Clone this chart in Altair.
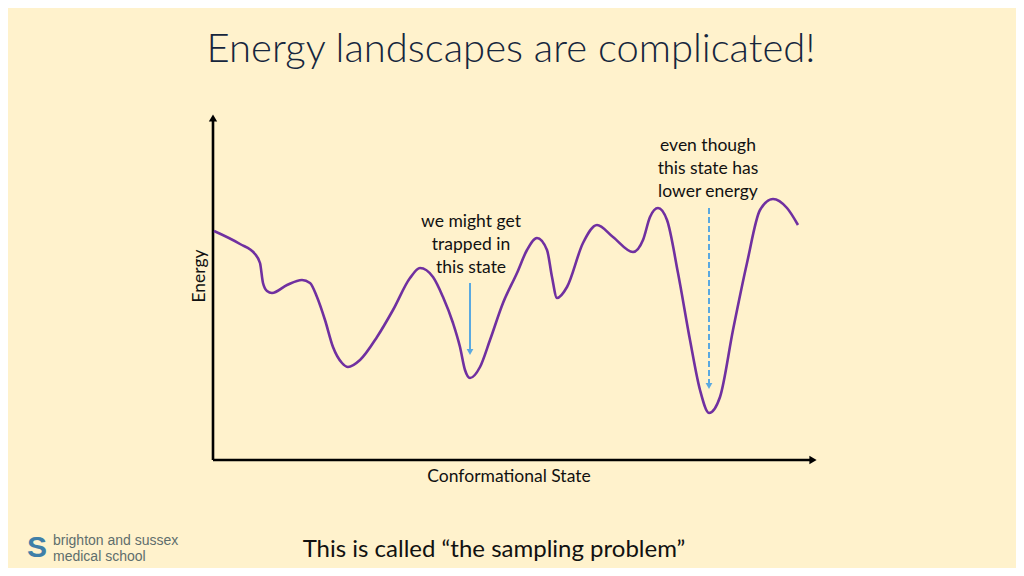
import altair as alt
import pandas as pd

# Energy landscape (arbitrary units: state 0-605, energy 0-347)
state = [1, 27, 42, 47, 50, 54, 59, 74, 89, 97,
         104, 112, 120, 129, 135, 147, 164, 180, 197, 207,
         220, 230, 240, 247, 252, 257, 267, 277, 290, 304,
         314, 324, 334, 339, 344, 354, 370, 384, 400, 420,
         430, 437, 445, 454, 465, 477, 487, 496, 507, 520,
         534, 547, 560, 574, 585]
energy = [229, 216, 206, 197, 177, 169, 167, 175, 180, 177,
          163, 140, 113, 97, 93, 100, 123, 150, 182, 192,
          183, 163, 137, 113, 90, 82, 93, 120, 157, 187,
          210, 222, 210, 183, 162, 173, 217, 235, 223, 208,
          220, 243, 252, 240, 187, 120, 70, 47, 63, 130,
          197, 250, 261, 252, 235]

title_text = "Energy landscapes are complicated!"
y_label = "Energy"
x_label = "Conformational State"
note_trap = "we might get\ntrapped in\nthis state"
note_low = "even though\nthis state has\nlower energy"
footer = "This is called \u201cthe sampling problem\u201d"
logo_lines = "brighton and sussex\nmedical school"

# arrows: (state, energy start, energy end)
trap_state, trap_from, trap_to = 257, 177, 108
low_state, low_from, low_to = 496, 252, 74

curve = pd.DataFrame({"state": state, "energy": energy})
one = pd.DataFrame({"k": [0]})

BG = "#FFF2CC"
FONT = "Lato"
xs = alt.Scale(domain=[0, 605], range=[205, 810])
ys = alt.Scale(domain=[0, 347], range=[452, 105])

line = alt.Chart(curve).mark_line(color="#7030A0", strokeWidth=2.6, interpolate="monotone").encode(
    x=alt.X("state:Q", scale=xs, axis=None),
    y=alt.Y("energy:Q", scale=ys, axis=None),
)

def rule(x, y, x2=None, y2=None, color="black", width=2.6, dash=None):
    kw = dict(color=color, strokeWidth=width)
    if dash:
        kw["strokeDash"] = dash
    enc = dict(x=alt.X(datum=x, scale=xs, axis=None), y=alt.Y(datum=y, scale=ys, axis=None))
    if x2 is not None:
        enc["x2"] = alt.X2(datum=x2)
    if y2 is not None:
        enc["y2"] = alt.Y2(datum=y2)
    return alt.Chart(one).mark_rule(**kw).encode(**enc)

def head(x, y, shape, color="black", size=70):
    return alt.Chart(one).mark_point(shape=shape, filled=True, opacity=1,
                                     color=color, size=size, strokeWidth=0).encode(
        x=alt.X(datum=x, scale=xs, axis=None), y=alt.Y(datum=y, scale=ys, axis=None))

x_axis = rule(0, 0, x2=597)
y_axis = rule(0, 0, y2=340)
x_head = head(600, 0, "triangle-right")
y_head = head(0, 342, "triangle-up")

BLUE = "#5AA9E0"
trap_line = rule(trap_state, trap_from, y2=trap_to + 3, color=BLUE, width=2)
trap_head = head(trap_state, trap_to, "triangle-down", color=BLUE, size=45)
low_line = rule(low_state, low_from, y2=low_to + 3, color=BLUE, width=2, dash=[6, 3])
low_head = head(low_state, low_to, "triangle-down", color=BLUE, size=45)

def txt(text, x, y, size, color="#111111", angle=0, weight=400, font=FONT,
        align="center", baseline="middle", lh=None):
    kw = dict(align=align, baseline=baseline, fontSize=size, font=font,
              color=color, fontWeight=weight)
    if angle:
        kw["angle"] = angle
    if lh:
        kw["lineBreak"] = "\n"
        kw["lineHeight"] = lh
    return alt.Chart(one).mark_text(**kw).encode(
        x=alt.value(x), y=alt.value(y), text=alt.value(text))

title = txt(title_text, 503, 42, 40, color="#16263D", weight=300)
ylab = txt(y_label, 192, 268, 17.5, angle=270)
xlab = txt(x_label, 501, 469, 17.5)
n1 = txt(note_trap, 463, 214, 17.5, lh=23)
n2 = txt(note_low, 700, 138, 17.5, lh=23)
foot = txt(footer, 486, 542, 24)
logo = txt(logo_lines, 45, 533, 14, color="#5E6E6C", font="Liberation Sans",
           align="left", lh=16)
helix = txt("S", 29, 540, 30, color="#3F7FA8", font="Liberation Sans", weight=700)

chart = alt.layer(
    x_axis, y_axis, x_head, y_head, line,
    trap_line, trap_head, low_line, low_head,
    title, ylab, xlab, n1, n2, foot, helix, logo,
).properties(
    width=1008, height=560,
    autosize=alt.AutoSizeParams(type="none"),
    padding=0,
    background=BG,
).configure_view(stroke=None)

chart.save("out.html", embed_options={"renderer": "svg", "actions": False})
